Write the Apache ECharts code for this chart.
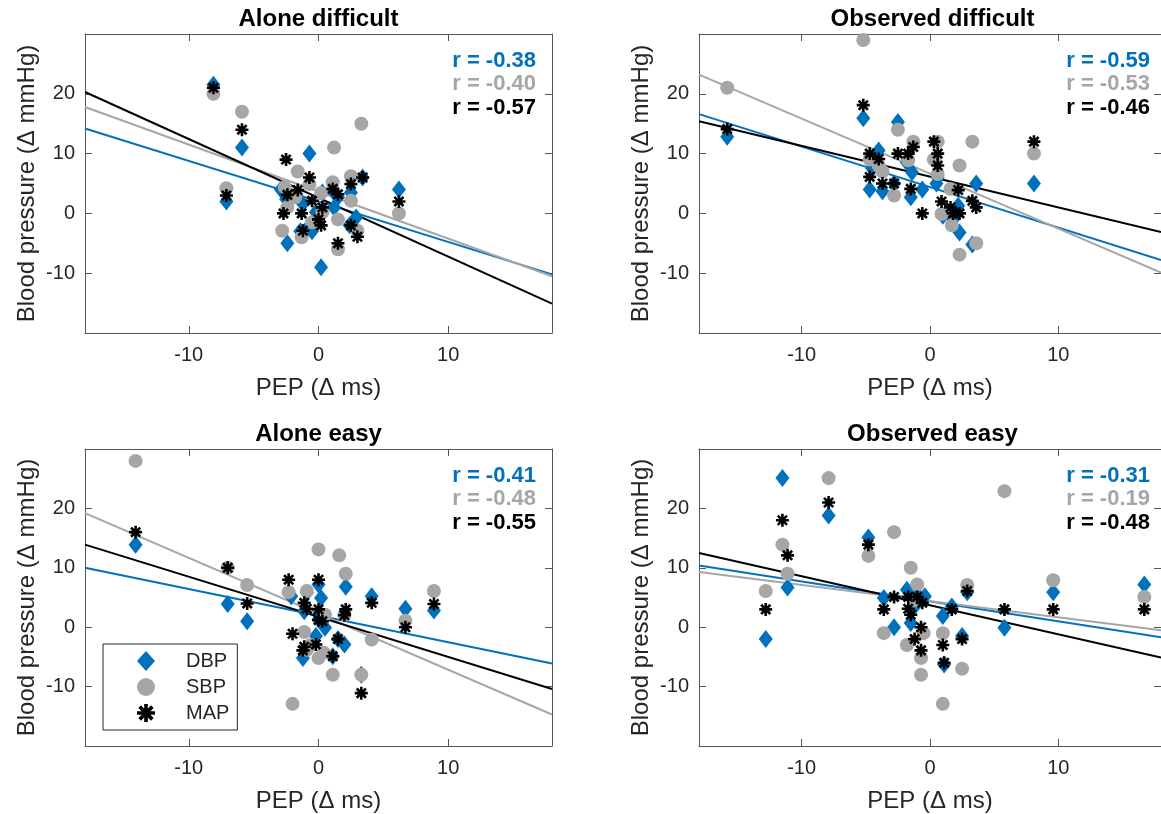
<!DOCTYPE html>
<html><head><meta charset="utf-8">
<script src="https://cdn.jsdelivr.net/npm/echarts@6/dist/echarts.min.js"></script>
<style>html,body{margin:0;padding:0;background:#fff}#c{width:1161px;height:814px}</style>
</head><body><div id="c"></div><script>
// ---------- data ----------
const panelTitles = ['Alone difficult', 'Observed difficult', 'Alone easy', 'Observed easy'];
const xTicks = [-10, 0, 10];
const yTicks = [-10, 0, 10, 20];
const seriesNames = ['DBP', 'SBP', 'MAP'];

// Alone difficult
const adDBP = [[-8.1,21.5],[-5.9,11],[-7.1,2],[-0.7,10],[-2.4,-5],[0.2,-9],[3.4,6],[6.2,4],[-2.9,4],[-2.5,2.4],[-1.2,1.6],[-0.9,-2.6],[-0.5,-3],[-0.2,0.2],[1.1,3.8],[1.5,2.7],[2.5,3.5],[2.9,-0.7],[0.3,3.5],[2.4,-2],[1.2,1],[-1.4,-3]];
const adSBP = [[-8.1,20],[-5.9,17],[-7.1,4.2],[3.3,15],[1.2,11],[-1.6,7],[-0.7,4.9],[1.1,5.2],[2.5,6.2],[2.5,2.1],[0.2,3.4],[-2.8,-2.9],[-1.3,-4],[-2.4,1],[1.5,-1],[1.5,-6],[3.0,-2.9],[6.2,0],[-1.8,2.7],[-0.5,-1.5],[0.3,0.2],[-2.6,4.4]];
const adMAP = [[-8.1,21],[-5.9,14],[-7.1,3],[-2.5,9],[-1.6,3.9],[-2.4,3.1],[-2.7,0],[-1.3,0],[-0.7,6],[-0.5,2.1],[-1.2,-2.9],[0,-1],[0.2,-2],[0.3,1],[1.1,4.1],[1.5,3.2],[2.5,4.9],[3.4,6],[2.5,-2],[3.0,-3.9],[1.5,-5],[6.2,2]];
const adFitDBP = [[-18,14.2],[18,-10.2]];
const adFitSBP = [[-18,17.8],[18,-10.5]];
const adFitMAP = [[-18,20.3],[18,-15.1]];
const adR = [-0.38, -0.40, -0.57];

// Observed difficult
const odDBP = [[-15.8,12.8],[-5.2,15.9],[-2.5,15.3],[-4.0,10.5],[-4.7,4],[-3.7,3.7],[-2.8,5],[-1.5,2.7],[-0.6,4],[0.5,5],[3.6,5],[8.1,5],[2.3,-3.2],[3.3,-5.2],[2.2,1.3],[1.0,-0.4],[-1.4,6.9],[-1.8,8.5],[0.6,6],[-4.5,7.5],[1.8,-1]];
const odSBP = [[-5.2,29],[-15.8,21],[-2.5,14],[-1.3,12],[0.6,12],[3.3,12],[8.1,10],[2.3,8],[0.3,9],[-1.7,8.9],[-3.7,7],[-2.8,3],[0.9,-0.1],[1.7,-2],[1.6,4.1],[3.6,-5],[2.3,-6.9],[0.6,6.6],[-4.7,9],[-4.0,8]];
const odMAP = [[-15.8,14.1],[-5.2,18.1],[-4.7,10],[-4.0,9.1],[-4.7,6.1],[-3.7,5],[-2.8,5],[-2.5,10],[-1.7,10],[-1.3,11.1],[-1.5,4.1],[-0.6,0],[0.3,12],[0.6,10],[0.6,8],[0.9,2],[1.6,1],[1.8,0],[2.3,0],[2.2,3.9],[3.3,2.1],[3.6,1],[8.1,12]];
const odFitDBP = [[-18,16.6],[18,-7.8]];
const odFitSBP = [[-18,23.2],[18,-9.9]];
const odFitMAP = [[-18,15.4],[18,-3.1]];
const odR = [-0.59, -0.53, -0.46];

// Alone easy
const aeDBP = [[-14.1,13.9],[-7.0,3.9],[-5.5,1],[2.1,6.8],[4.1,5.2],[6.7,3.1],[8.9,2.8],[0.2,4.9],[0,7.2],[2.0,-2.9],[1.5,-2],[1.1,-4.9],[-1.2,-5.2],[-0.2,-1.5],[0.5,-0.1],[-1.1,2.7],[3.3,-8],[-2.1,5.2],[-0.9,5.8],[0,1.3]];
const aeSBP = [[-14.1,28],[-7.0,10],[-5.5,7.1],[-2.3,5.9],[-0.9,6.1],[0,13.1],[1.6,12.1],[2.1,9],[8.9,6.1],[6.7,1.1],[4.1,-2.1],[3.3,-8],[1.1,-8],[-2.0,-12.9],[-1.1,-0.8],[-0.9,-3.8],[0,-5.2],[0.4,-4.3],[0.5,2.1],[2.0,2.1],[-0.6,-3]];
const aeMAP = [[-14.1,16],[-7.0,10],[-5.5,4],[-2.3,8],[0,8],[-1.1,4.1],[-0.9,3.1],[0,3],[0,1.2],[0.3,1],[-2.0,-1.1],[-1.1,-3.3],[-1.2,-3.9],[-0.2,-2.9],[1.1,-4.9],[1.5,-2],[2.1,3],[2.0,2],[4.1,4.1],[6.7,0],[8.9,3.9],[3.3,-11.1]];
const aeFitDBP = [[-18,10.0],[18,-6.1]];
const aeFitSBP = [[-18,19.2],[18,-14.7]];
const aeFitMAP = [[-18,13.9],[18,-10.4]];
const aeR = [-0.41, -0.48, -0.55];

// Observed easy
const oeDBP = [[-12.8,-2],[-11.5,25.1],[-11.1,6.7],[-7.9,18.8],[-4.8,15.1],[-3.6,4.9],[-2.8,0],[-1.8,6.3],[-0.4,5.2],[1.0,1.9],[1.7,3.5],[2.5,-1.5],[1.1,-6.3],[2.9,5.9],[5.8,-0.1],[9.6,5.9],[16.7,7.2],[-1.5,0.7],[-1.2,3.5],[-1.0,5.5]];
const oeSBP = [[-12.8,6.1],[-11.5,13.9],[-11.1,9],[-7.9,25.1],[-4.8,12],[-2.8,16],[-3.6,-1],[-1.5,10],[-1.0,7.2],[-1.8,-3],[-0.7,-5.2],[-0.7,-8],[-0.5,-1],[1.0,-1],[1.0,-12.9],[2.5,-7],[2.9,7.1],[5.8,22.9],[9.6,7.9],[16.7,5.1],[-1.2,4.5]];
const oeMAP = [[-12.8,3],[-11.5,18],[-11.1,12.1],[-7.9,21],[-4.8,13.9],[-3.6,3],[-2.8,5.1],[-1.7,5.1],[-1.0,5.1],[-1.7,3.1],[-1.5,2.1],[-0.6,4.1],[-0.7,0],[-1.2,-2],[-0.7,-3.9],[1.0,-3],[1.1,-6],[1.7,3],[2.5,-2],[2.9,6.1],[5.8,3],[9.6,3],[16.7,3]];
const oeFitDBP = [[-18,10.4],[18,-1.7]];
const oeFitSBP = [[-18,9.3],[18,-0.5]];
const oeFitMAP = [[-18,12.5],[18,-5.1]];
const oeR = [-0.31, -0.19, -0.48];

// ---------- build ----------
const scatterData = [[adDBP, adSBP, adMAP],[odDBP, odSBP, odMAP],[aeDBP, aeSBP, aeMAP],[oeDBP, oeSBP, oeMAP]];
const fitData = [[adFitDBP, adFitSBP, adFitMAP],[odFitDBP, odFitSBP, odFitMAP],[aeFitDBP, aeFitSBP, aeFitMAP],[oeFitDBP, oeFitSBP, oeFitMAP]];
const rData = [adR, odR, aeR, oeR];

const FONT = '"Liberation Sans", Arial, Helvetica, sans-serif';
const colors = ['#0072BD', '#A6A6A6', '#000000'];
const AX = '#555555';
const TXT = '#262626';
const ASTER = 'path://M0 40 L100 40 L100 60 L0 60 Z M40 0 L60 0 L60 100 L40 100 Z ' +
  'M21.7 7.5 L92.5 78.3 L78.3 92.5 L7.5 21.7 Z M7.5 78.3 L78.3 7.5 L92.5 21.7 L21.7 92.5 Z';
const symbols = ['diamond', 'circle', ASTER];
const symSizes = [[14, 18], 14, 13];

const gridPos = [[85, 34], [699, 34], [85, 449], [699, 449]];
const GW = 467, GH = 299;

const grids = [], xAxes = [], yAxes = [], series = [], graphics = [];
gridPos.forEach(([l, t], i) => {
  grids.push({left: l, top: t, width: GW, height: GH, containLabel: false});
  const lineStyle = {color: AX, width: 1};
  xAxes.push({
    type: 'value', gridIndex: i, min: -18, max: 18, position: 'bottom',
    axisLine: {show: true, onZero: false, lineStyle},
    axisTick: {show: true, inside: true, length: 7, customValues: xTicks, lineStyle},
    axisLabel: {show: true, customValues: xTicks, margin: 12, fontSize: 20, color: TXT, fontFamily: FONT},
    splitLine: {show: false},
    name: 'PEP (\u0394 ms)', nameLocation: 'middle', nameGap: 43,
    nameTextStyle: {fontSize: 24, color: TXT, fontFamily: FONT}
  });
  xAxes.push({
    type: 'value', gridIndex: i, min: -18, max: 18, position: 'top',
    axisLine: {show: true, onZero: false, lineStyle},
    axisTick: {show: true, inside: true, length: 7, customValues: xTicks, lineStyle},
    axisLabel: {show: false}, splitLine: {show: false}
  });
  yAxes.push({
    type: 'value', gridIndex: i, min: -20, max: 30, position: 'left',
    axisLine: {show: true, onZero: false, lineStyle},
    axisTick: {show: true, inside: true, length: 7, customValues: yTicks, lineStyle},
    axisLabel: {show: true, customValues: yTicks, margin: 10, fontSize: 20, color: TXT, fontFamily: FONT},
    splitLine: {show: false},
    name: 'Blood pressure (\u0394 mmHg)', nameLocation: 'middle', nameGap: 46,
    nameTextStyle: {fontSize: 24, color: TXT, fontFamily: FONT}
  });
  yAxes.push({
    type: 'value', gridIndex: i, min: -20, max: 30, position: 'right',
    axisLine: {show: true, onZero: false, lineStyle},
    axisTick: {show: true, inside: true, length: 7, customValues: yTicks, lineStyle},
    axisLabel: {show: false}, splitLine: {show: false}
  });
  fitData[i].forEach((d, k) => {
    series.push({
      type: 'line', name: seriesNames[k] + ' fit', xAxisIndex: 2 * i, yAxisIndex: 2 * i,
      data: d, showSymbol: false, silent: true, animation: false,
      lineStyle: {color: colors[k], width: 2}, z: 2
    });
  });
  scatterData[i].forEach((d, k) => {
    series.push({
      type: 'scatter', name: seriesNames[k], xAxisIndex: 2 * i, yAxisIndex: 2 * i,
      data: d, symbol: symbols[k], symbolSize: symSizes[k],
      itemStyle: {color: colors[k], opacity: 1}, z: 3 + k, animation: false
    });
  });
  graphics.push({
    type: 'text', x: l + GW / 2, y: t - 15, silent: true,
    style: {text: panelTitles[i], fill: '#000', fontSize: 24, fontWeight: 'bold', fontFamily: FONT,
      align: 'center', verticalAlign: 'middle'}
  });
  const rows = [27, 50, 74];
  rData[i].forEach((r, k) => {
    graphics.push({
      type: 'text', x: l + 451, y: t + rows[k], silent: true, z: 10,
      style: {text: 'r = ' + r.toFixed(2), fill: colors[k], fontSize: 22, fontWeight: 'bold', fontFamily: FONT,
        align: 'right', verticalAlign: 'middle'}
    });
  });
});

const chart = echarts.init(document.getElementById('c'), null, {renderer: 'canvas'});
chart.setOption({
  animation: false,
  backgroundColor: '#fff',
  textStyle: {fontFamily: FONT},
  grid: grids, xAxis: xAxes, yAxis: yAxes, series: series,
  legend: {
    left: 103, top: 644, orient: 'vertical',
    data: [{name: 'DBP', icon: 'diamond'}, {name: 'SBP', icon: 'circle'}, {name: 'MAP', icon: ASTER}],
    itemWidth: 18, itemHeight: 20, itemGap: 6,
    padding: [7, 8, 7, 34],
    backgroundColor: '#fff', borderColor: '#262626', borderWidth: 1, borderRadius: 0,
    textStyle: {fontSize: 20, color: TXT, fontFamily: FONT, padding: [0, 0, 0, 26]},
    selectedMode: false, z: 20
  },
  graphic: graphics
});
</script></body></html>
